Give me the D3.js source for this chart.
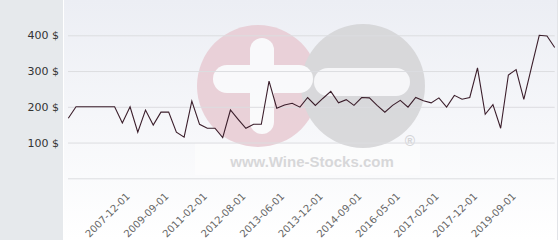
<!DOCTYPE html>
<html>
<head>
<meta charset="utf-8">
<script src="https://cdn.jsdelivr.net/npm/d3@7"></script>
<style>
  body { margin: 0; background: #fff; }
  svg { display: block; }
</style>
</head>
<body>
<div class="chart"></div>
<script>
// prices per period ($)
var prices = [168, 200, 200, 200, 200, 200, 200, 155, 200, 129, 191, 149, 185, 185, 129, 115,
  216, 151, 140, 140, 114, 191, 165, 140, 151, 151, 272, 196, 205, 210, 199, 226,
  204, 224, 243, 211, 220, 204, 226, 225, 204, 185, 204, 218, 199, 226, 217, 211,
  225, 199, 232, 221, 226, 309, 179, 206, 140, 289, 304, 221, 311, 400, 398, 366];

// labelled categories and where they sit in the series
var tickLabels = ["2007-12-01", "2009-09-01", "2011-02-01", "2012-08-01", "2013-06-01",
  "2013-12-01", "2014-09-01", "2016-05-01", "2017-02-01", "2017-12-01", "2019-09-01"];
var tickIndex = [8, 13, 18, 23, 28, 33, 38, 43, 48, 53, 58];

var yTicks = [0, 100, 200, 300, 400];

var svgWidth = 560, svgHeight = 240;
var panelWidth = 63;
var font = "DejaVu Sans, Verdana, sans-serif";

var svg = d3.select(".chart").append("svg")
  .attr("width", svgWidth)
  .attr("height", svgHeight)
  .attr("font-family", font);

var defs = svg.append("defs");
var grad = defs.append("linearGradient")
  .attr("id", "bg").attr("x1", 0).attr("y1", 0).attr("x2", 0).attr("y2", 1);
grad.append("stop").attr("offset", "0%").attr("stop-color", "#eceef4");
grad.append("stop").attr("offset", "100%").attr("stop-color", "#ffffff");

// grey side panel + plot background
svg.append("rect").attr("width", panelWidth).attr("height", svgHeight).attr("fill", "#e6e9ec");
svg.append("rect").attr("x", panelWidth + 1).attr("width", svgWidth - panelWidth - 4)
  .attr("height", svgHeight).attr("fill", "url(#bg)");
svg.append("line").attr("x1", 557.5).attr("x2", 557.5).attr("y1", 0).attr("y2", svgHeight)
  .attr("stroke", "#e2e4e8");

var xScale = d3.scalePoint()
  .domain(d3.range(prices.length))
  .range([68.3, 554.7]);

var yScale = d3.scaleLinear()
  .domain([0, 400])
  .range([178.3, 35.3]);

// watermark
var wm = svg.append("g").attr("opacity", 0.85);
wm.append("rect").attr("x", 195).attr("y", 143).attr("width", 225).attr("height", 32)
  .attr("fill", "#ffffff").attr("opacity", 0.6);
wm.append("circle").attr("cx", 258).attr("cy", 86).attr("r", 61).attr("fill", "#e8cbd3");
wm.append("circle").attr("cx", 363).attr("cy", 86).attr("r", 62).attr("fill", "#d4d4d6");
wm.append("rect").attr("x", 250).attr("y", 38).attr("width", 24).attr("height", 96)
  .attr("rx", 12).attr("fill", "#fbfbfc");
wm.append("rect").attr("x", 213).attr("y", 65).attr("width", 100).attr("height", 28)
  .attr("rx", 14).attr("fill", "#fbfbfc");
wm.append("rect").attr("x", 314).attr("y", 68).attr("width", 96).attr("height", 28)
  .attr("rx", 14).attr("fill", "#f7f7f9");
wm.append("text").attr("x", 312).attr("y", 167).attr("text-anchor", "middle")
  .attr("font-size", "15px").attr("font-weight", "bold").attr("fill", "#d2d2d4")
  .attr("font-family", "Liberation Sans, Arial, sans-serif")
  .text("www.Wine-Stocks.com");
wm.append("text").attr("x", 410).attr("y", 146).attr("text-anchor", "middle")
  .attr("font-size", "14px").attr("font-weight", "bold").attr("fill", "#cfcfd2")
  .attr("font-family", "Liberation Sans, Arial, sans-serif")
  .text("®");

// y axis with gridlines
var yAxis = d3.axisLeft(yScale)
  .tickValues(yTicks)
  .tickSize(-(554.7 - 68))
  .tickPadding(9)
  .tickFormat(function(d) { return d ? d + " $" : ""; });

var yG = svg.append("g")
  .attr("transform", "translate(68, 0)")
  .call(yAxis)
  .attr("font-family", font);
yG.select(".domain").remove();
yG.selectAll(".tick line").attr("stroke", "#dcdde0");
yG.selectAll(".tick text").attr("fill", "#333").attr("font-size", "11px")
  .attr("x", -9);

// x axis labels
var xAxis = d3.axisBottom(xScale)
  .tickValues(tickIndex)
  .tickSize(0)
  .tickFormat(function(d) { return tickLabels[tickIndex.indexOf(d)]; });

var xG = svg.append("g")
  .attr("transform", "translate(0, 178)")
  .call(xAxis)
  .attr("font-family", font);
xG.select(".domain").remove();
xG.selectAll(".tick text")
  .attr("fill", "#666")
  .attr("font-size", "10px")
  .attr("text-anchor", "end")
  .attr("dy", 0)
  .attr("y", 0)
  .attr("transform", "translate(0, 19) rotate(-45)");

// price line
var line = d3.line()
  .x(function(d, i) { return xScale(i); })
  .y(function(d) { return yScale(d); });

svg.append("path")
  .datum(prices)
  .attr("d", line)
  .attr("fill", "none")
  .attr("stroke", "#3b1e2b")
  .attr("stroke-width", 1.1);
</script>
</body>
</html>
